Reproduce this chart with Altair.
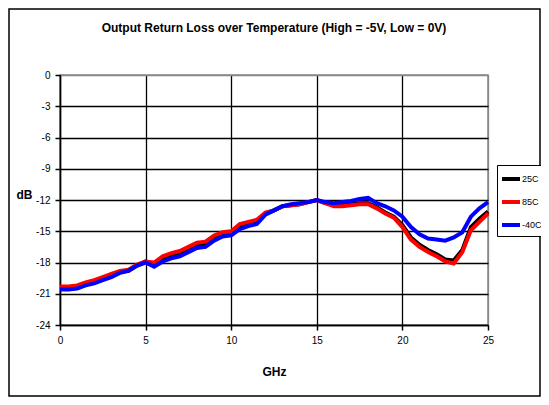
import altair as alt
import pandas as pd

freq = [0, 0.5, 1, 1.5, 2, 2.5, 3, 3.5, 4, 4.5, 5, 5.5, 6, 6.5, 7, 7.5, 8, 8.5, 9, 9.5,
        10, 10.5, 11, 11.5, 12, 12.5, 13, 13.5, 14, 14.5, 15, 15.5, 16, 16.5, 17, 17.5,
        18, 18.5, 19, 19.5, 20, 20.5, 21, 21.5, 22, 22.5, 23, 23.5, 24, 24.5, 25]

s25 = [-20.5, -20.5, -20.4, -20.1, -19.9, -19.6, -19.3, -18.9, -18.8, -18.3, -17.9, -18.2,
       -17.7, -17.4, -17.2, -16.8, -16.4, -16.3, -15.7, -15.3, -15.2, -14.5, -14.3, -14.1,
       -13.3, -13.0, -12.6, -12.5, -12.4, -12.2, -12.0, -12.3, -12.5, -12.5, -12.4, -12.3,
       -12.3, -12.7, -13.2, -13.6, -14.4, -15.6, -16.3, -16.8, -17.2, -17.7, -17.8, -16.8,
       -14.6, -13.8, -13.1]

s85 = [-20.3, -20.3, -20.2, -19.9, -19.7, -19.4, -19.1, -18.8, -18.7, -18.2, -17.9, -18.0,
       -17.4, -17.1, -16.9, -16.5, -16.1, -16.0, -15.4, -15.1, -15.0, -14.3, -14.1, -13.9,
       -13.2, -13.0, -12.6, -12.5, -12.4, -12.2, -12.0, -12.3, -12.6, -12.6, -12.5, -12.4,
       -12.4, -12.8, -13.3, -13.7, -14.6, -15.8, -16.5, -17.0, -17.4, -17.9, -18.1, -17.0,
       -14.9, -14.1, -13.3]

sm40 = [-20.6, -20.6, -20.5, -20.2, -20.0, -19.7, -19.4, -19.0, -18.8, -18.3, -18.0, -18.4,
        -17.9, -17.6, -17.4, -17.0, -16.6, -16.5, -15.9, -15.5, -15.4, -14.8, -14.5, -14.3,
        -13.4, -13.0, -12.6, -12.4, -12.3, -12.2, -12.0, -12.2, -12.3, -12.2, -12.1, -11.9,
        -11.8, -12.3, -12.6, -13.0, -13.6, -14.6, -15.3, -15.7, -15.8, -15.9, -15.6, -15.1,
        -13.6, -12.8, -12.2]

series = ["25C", "85C", "-40C"]
colors = ["#000000", "#FF0000", "#0000FF"]
y_ticks = [0, -3, -6, -9, -12, -15, -18, -21, -24]
x_ticks = [0, 5, 10, 15, 20, 25]
title_text = "Output Return Loss over Temperature (High = -5V, Low = 0V)"

rows = []
for name, vals in zip(series, [s25, s85, sm40]):
    for f, v in zip(freq, vals):
        rows.append({"GHz": f, "dB": v, "Series": name})
df = pd.DataFrame(rows)

W, H = 428, 250
FONT = "Liberation Sans"

x_enc = alt.X("GHz:Q", scale=alt.Scale(domain=[0, 25], nice=False),
              axis=alt.Axis(values=x_ticks, title="GHz", grid=True, labelFlush=False,
                            labelExpr="'' + datum.value",
                            gridColor={"condition": {"test": "datum.value === 25", "value": "#888888"},
                                       "value": "#000000"},
                            titleY=50, titleBaseline="alphabetic"))
y_enc = alt.Y("dB:Q", scale=alt.Scale(domain=[-24, 0], nice=False),
              axis=alt.Axis(values=y_ticks, title="dB", grid=True, labelFlush=False,
                            labelExpr="'' + datum.value",
                            gridColor={"condition": {"test": "datum.value === 0", "value": "#888888"},
                                       "value": "#000000"},
                            titleAngle=0, titleX=-36, titleY=123, titleAlign="center",
                            titleBaseline="alphabetic"))
color_enc = alt.Color("Series:N", scale=alt.Scale(domain=series, range=colors),
                      legend=alt.Legend(title=None, orient="none", legendX=437, legendY=90,
                                        symbolType="stroke", symbolSize=324, symbolStrokeWidth=4,
                                        labelFontSize=9, labelFont=FONT, labelOffset=0,
                                        padding=3, rowPadding=4, strokeColor="#000000",
                                        fillColor="#FFFFFF", labelColor="#000000"))

layers = []
for name in series:
    layers.append(
        alt.Chart(df).transform_filter(alt.datum.Series == name)
        .mark_line(strokeWidth=4)
        .encode(x=x_enc, y=y_enc, color=color_enc)
    )

one = pd.DataFrame({"a": [0]})
border = alt.Chart(one).mark_rect(
    fill=None, stroke="#000000", strokeWidth=1.5
).encode(x=alt.value(-51), x2=alt.value(W + 52), y=alt.value(-66), y2=alt.value(H + 71))

title = alt.Chart(one).mark_text(
    font=FONT, fontSize=12, fontWeight="bold", color="#000000", align="center",
    baseline="alphabetic"
).encode(x=alt.value(W / 2), y=alt.value(-43), text=alt.value(title_text))

chart = alt.layer(border, title, *layers).properties(
    width=W, height=H,
    autosize=alt.AutoSizeParams(type="none"),
    padding={"left": 52, "top": 67, "right": 53, "bottom": 72},
    background="#FFFFFF",
).configure_view(
    stroke="#888888", strokeWidth=1.5
).configure_axis(
    labelFont=FONT, labelFontSize=10, labelColor="#000000",
    titleFont=FONT, titleFontSize=12, titleFontWeight="bold", titleColor="#000000",
    domainColor="#000000", domainWidth=1.5, tickColor="#000000", tickSize=5, tickWidth=1.5,
    gridWidth=1.3, labelPadding=5,
)

chart.save("out.html", embed_options={"renderer": "svg", "actions": False})
